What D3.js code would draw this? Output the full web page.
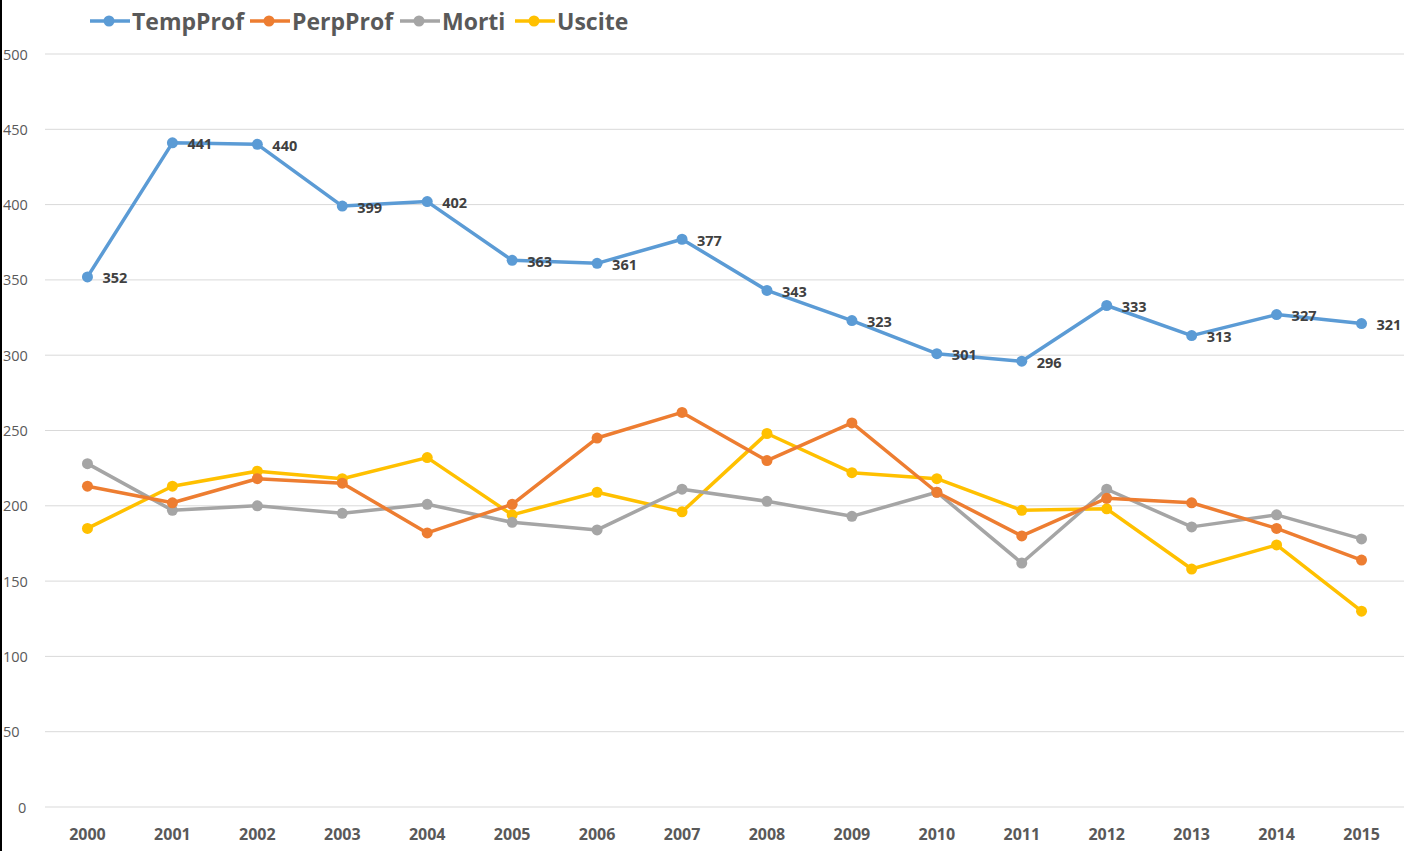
<!DOCTYPE html>
<html>
<head>
<meta charset="utf-8">
<script src="https://cdn.jsdelivr.net/npm/d3@7"></script>
<style>
    body { margin: 0; background: #fff; }
    svg { display: block; font-family: "Open Sans", "Noto Sans", sans-serif; }
</style>
</head>
<body>
<svg id="chart" width="1409" height="851"></svg>
<script>
const years = ["2000", "2001", "2002", "2003", "2004", "2005", "2006", "2007",
    "2008", "2009", "2010", "2011", "2012", "2013", "2014", "2015"];
const tempProf = [352, 441, 440, 399, 402, 363, 361, 377, 343, 323, 301, 296, 333, 313, 327, 321];
const perpProf = [213, 202, 218, 215, 182, 201, 245, 262, 230, 255, 209, 180, 205, 202, 185, 164];
const morti = [228, 197, 200, 195, 201, 189, 184, 211, 203, 193, 209, 162, 211, 186, 194, 178];
const uscite = [185, 213, 223, 218, 232, 194, 209, 196, 248, 222, 218, 197, 198, 158, 174, 130];
const yTicks = [0, 50, 100, 150, 200, 250, 300, 350, 400, 450, 500];

const series = [
    { name: "TempProf", values: tempProf, color: "#5B9BD5", labels: true },
    { name: "PerpProf", values: perpProf, color: "#ED7D31" },
    { name: "Morti", values: morti, color: "#A5A5A5" },
    { name: "Uscite", values: uscite, color: "#FFC000" },
];

(function () {
const svg = d3.select("#chart");
const plotLeft = 45, plotRight = 1404, plotTop = 54, plotBottom = 807;

const x = d3.scaleBand().domain(years).range([plotLeft, plotRight]);
const cx = d => x(d) + x.bandwidth() / 2;
const y = d3.scaleLinear().domain([0, 500]).range([plotBottom, plotTop]);

// left border
svg.append("line")
    .attr("x1", 1).attr("x2", 1).attr("y1", 0).attr("y2", 851)
    .attr("stroke", "#000").attr("stroke-width", 2);

// grid + y labels
const grid = svg.append("g");
grid.selectAll("line")
    .data(yTicks)
    .join("line")
    .attr("x1", plotLeft).attr("x2", plotRight)
    .attr("y1", d => y(d)).attr("y2", d => y(d))
    .attr("stroke", "#d9d9d9").attr("stroke-width", 1);
grid.selectAll("text")
    .data(yTicks)
    .join("text")
    .attr("x", d => d === 0 ? 18 : 3)
    .attr("y", d => y(d))
    .attr("dominant-baseline", "central")
    .attr("font-size", 14.5)
    .attr("fill", "#595959")
    .text(d => d);

// x labels
svg.append("g").selectAll("text")
    .data(years)
    .join("text")
    .attr("x", d => cx(d))
    .attr("y", 834)
    .attr("text-anchor", "middle")
    .attr("dominant-baseline", "central")
    .attr("font-size", 16)
    .attr("font-weight", "bold")
    .attr("fill", "#595959")
    .text(d => d);

const line = d3.line().x((d, i) => cx(years[i])).y(d => y(d));

// draw back-to-front so TempProf/PerpProf sit on top like the original
for (const s of series.slice().reverse()) {
    const g = svg.append("g");
    g.append("path")
        .attr("d", line(s.values))
        .attr("fill", "none")
        .attr("stroke", s.color)
        .attr("stroke-width", 3.5)
        .attr("stroke-linejoin", "round");
    g.selectAll("circle")
        .data(s.values)
        .join("circle")
        .attr("cx", (d, i) => cx(years[i]))
        .attr("cy", d => y(d))
        .attr("r", 5.5)
        .attr("fill", s.color);
    if (s.labels) {
        g.selectAll("text")
            .data(s.values)
            .join("text")
            .attr("x", (d, i) => cx(years[i]) + 15)
            .attr("y", d => y(d) + 1)
            .attr("dominant-baseline", "central")
            .attr("font-size", 14.5)
            .attr("font-weight", "bold")
            .attr("fill", "#404040")
            .text(d => d);
    }
}

// legend
const legendX = [90, 250, 400, 515];
const legend = svg.append("g").selectAll("g")
    .data(series)
    .join("g")
    .attr("transform", (d, i) => `translate(${legendX[i]},21)`);
legend.append("line")
    .attr("x1", 0).attr("x2", 40)
    .attr("stroke", d => d.color).attr("stroke-width", 3.5);
legend.append("circle")
    .attr("cx", 19).attr("r", 5.5)
    .attr("fill", d => d.color);
legend.append("text")
    .attr("x", 42)
    .attr("dominant-baseline", "central")
    .attr("font-size", 23)
    .attr("font-weight", "bold")
    .attr("fill", "#595959")
    .text(d => d.name);
})();
</script>
</body>
</html>
